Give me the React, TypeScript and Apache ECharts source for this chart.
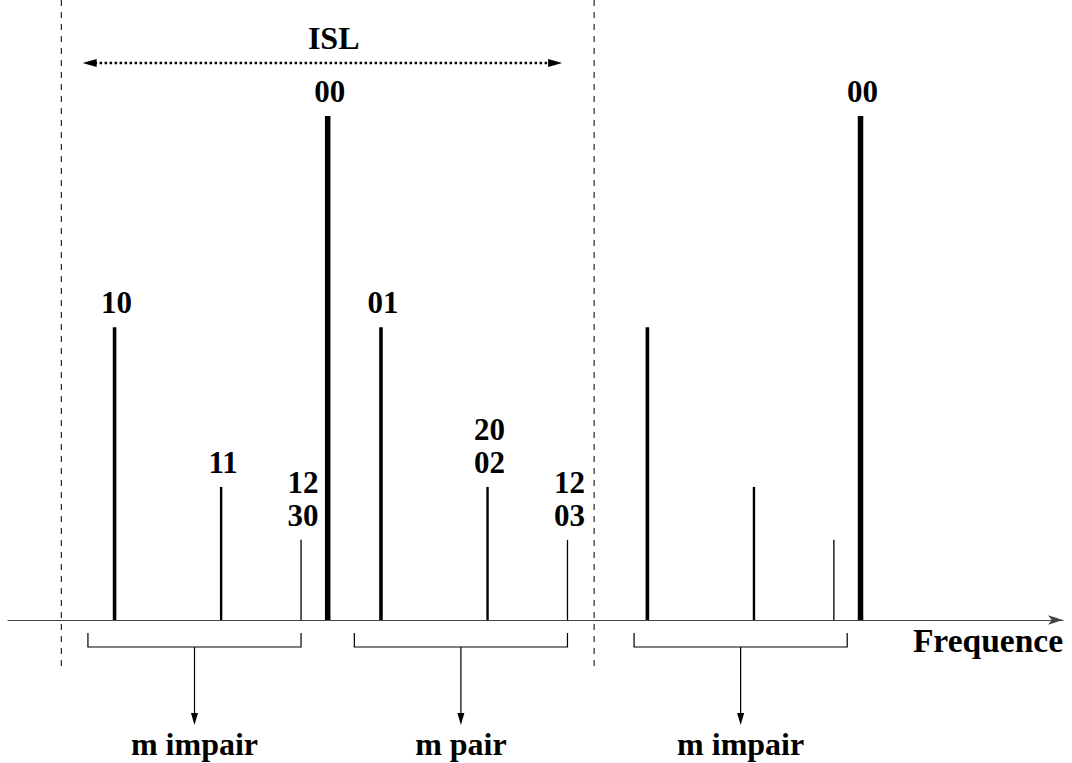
import React, { useEffect, useRef } from "react";
import * as echarts from "echarts";

// Spectral lines: frequency (in units of the line spacing period), amplitude, label
const frequencies = [-0.4, -0.2, -0.05, 0, 0.1, 0.3, 0.45, 0.6, 0.8, 0.95, 1.0];
const amplitudes = [0.581, 0.264, 0.159, 1.0, 0.581, 0.264, 0.159, 0.581, 0.264, 0.159, 1.0];
const lineLabels = ["10", "11", "12\n30", "00", "01", "20\n02", "12\n03", "", "", "", "00"];

// Groups under the axis
const groupStarts = [-0.45, 0.05, 0.575];
const groupEnds = [-0.05, 0.45, 0.975];
const groupLabels = ["m impair", "m pair", "m impair"];

// ISL window
const windowBounds = [-0.5, 0.5];
const islRange = [-0.46, 0.44];
const islLevel = 1.105;
const islLabel = "ISL";
const axisName = "Frequence";

const FAMILY = '"Liberation Serif", "Times New Roman", serif';
const FONT = `bold 31px ${FAMILY}`;
const FONT_WORD = `bold 32px ${FAMILY}`;
const FONT_NAME = `bold 33.5px ${FAMILY}`;
const LINE_STEP = 33;

function widthFor(a: number): number {
  if (a >= 0.9) return 5.5;
  if (a >= 0.5) return 3.6;
  if (a >= 0.2) return 2.4;
  return 1.3;
}

export default function App() {
  const ref = useRef<HTMLDivElement>(null);
  useEffect(() => {
    if (!ref.current) return;
    const chart = echarts.init(ref.current, undefined, { renderer: "svg" });
    const option: any = {
      animation: false,
      backgroundColor: "#ffffff",
      grid: { left: 8, right: 9, top: 116, bottom: 143 },
      xAxis: {
        type: "value",
        min: -0.6,
        max: 1.38,
        axisLine: {
          show: true,
          onZero: false,
          symbol: ["none", "arrow"],
          symbolSize: [7, 15],
          lineStyle: { color: "#444", width: 1.2 },
        },
        axisTick: { show: false },
        axisLabel: { show: false },
        splitLine: { show: false },
      },
      yAxis: {
        type: "value",
        min: 0,
        max: 1,
        show: false,
        splitLine: { show: false },
      },
      graphic: [
        {
          type: "text",
          right: 9,
          top: 623,
          style: { text: axisName, font: FONT_NAME, fill: "#000" },
        },
      ],
      series: [
        {
          type: "custom",
          clip: false,
          silent: true,
          data: frequencies.map((f, i) => [f, amplitudes[i]]),
          renderItem: (params: any, api: any) => {
            const x = api.value(0);
            const y = api.value(1);
            const top = api.coord([x, y]);
            const base = api.coord([x, 0]);
            const label = lineLabels[params.dataIndex];
            const children: any[] = [
              {
                type: "line",
                shape: { x1: top[0], y1: base[1], x2: top[0], y2: top[1] },
                style: { stroke: "#000", lineWidth: widthFor(y), lineCap: "butt" },
              },
            ];
            if (label) {
              const parts = label.split("\n");
              parts.forEach((part, k) => {
                children.push({
                  type: "text",
                  x: top[0] + 2,
                  y: top[1] - 9 - (parts.length - 1 - k) * LINE_STEP,
                  style: {
                    text: part,
                    font: FONT,
                    align: "center",
                    verticalAlign: "bottom",
                    fill: "#000",
                  },
                });
              });
            }
            return { type: "group", children };
          },
        },
        {
          type: "custom",
          clip: false,
          silent: true,
          data: groupStarts.map((s, i) => [s, groupEnds[i]]),
          renderItem: (params: any, api: any) => {
            const a = api.coord([api.value(0), 0]);
            const b = api.coord([api.value(1), 0]);
            const by = a[1];
            const mid = (a[0] + b[0]) / 2;
            const hy = by + 27;
            const end = by + 105;
            return {
              type: "group",
              children: [
                {
                  type: "polyline",
                  shape: { points: [[a[0], by + 13], [a[0], hy], [b[0], hy], [b[0], by + 13]] },
                  style: { stroke: "#000", lineWidth: 1.2, fill: null },
                },
                {
                  type: "line",
                  shape: { x1: mid, y1: hy, x2: mid, y2: end - 10 },
                  style: { stroke: "#000", lineWidth: 1.2 },
                },
                {
                  type: "polygon",
                  shape: { points: [[mid - 3.5, end - 12], [mid + 3.5, end - 12], [mid, end]] },
                  style: { fill: "#000" },
                },
                {
                  type: "text",
                  x: mid,
                  y: by + 140,
                  style: {
                    text: groupLabels[params.dataIndex],
                    font: FONT_WORD,
                    align: "center",
                    verticalAlign: "bottom",
                    fill: "#000",
                  },
                },
              ],
            };
          },
        },
        {
          type: "custom",
          clip: false,
          silent: true,
          data: windowBounds.map((b) => [b]),
          renderItem: (params: any, api: any) => {
            const p = api.coord([api.value(0), 0]);
            return {
              type: "line",
              shape: { x1: p[0], y1: 0, x2: p[0], y2: p[1] + 52 },
              style: { stroke: "#000", lineWidth: 1, lineDash: [6, 6] },
            };
          },
        },
        {
          type: "custom",
          clip: false,
          silent: true,
          data: [[islRange[0], islRange[1], islLevel]],
          renderItem: (params: any, api: any) => {
            const p1 = api.coord([api.value(0), api.value(2)]);
            const p2 = api.coord([api.value(1), api.value(2)]);
            const c = api.coord([0, api.value(2)]);
            const y = p1[1];
            return {
              type: "group",
              children: [
                {
                  type: "line",
                  shape: { x1: p1[0] + 12, y1: y, x2: p2[0] - 12, y2: y },
                  style: { stroke: "#000", lineWidth: 2.5, lineDash: [2.5, 2.5] },
                },
                {
                  type: "polygon",
                  shape: { points: [[p1[0], y], [p1[0] + 14, y - 4], [p1[0] + 14, y + 4]] },
                  style: { fill: "#000" },
                },
                {
                  type: "polygon",
                  shape: { points: [[p2[0], y], [p2[0] - 14, y - 4], [p2[0] - 14, y + 4]] },
                  style: { fill: "#000" },
                },
                {
                  type: "text",
                  x: c[0] + 6,
                  y: y - 9,
                  style: {
                    text: islLabel,
                    font: FONT_WORD,
                    align: "center",
                    verticalAlign: "bottom",
                    fill: "#000",
                  },
                },
              ],
            };
          },
        },
      ],
    };
    chart.setOption(option);
    return () => chart.dispose();
  }, []);
  return (
    <div
      ref={ref}
      style={{ position: "fixed", left: 0, top: 0, width: 1072, height: 763, background: "#fff" }}
    />
  );
}
